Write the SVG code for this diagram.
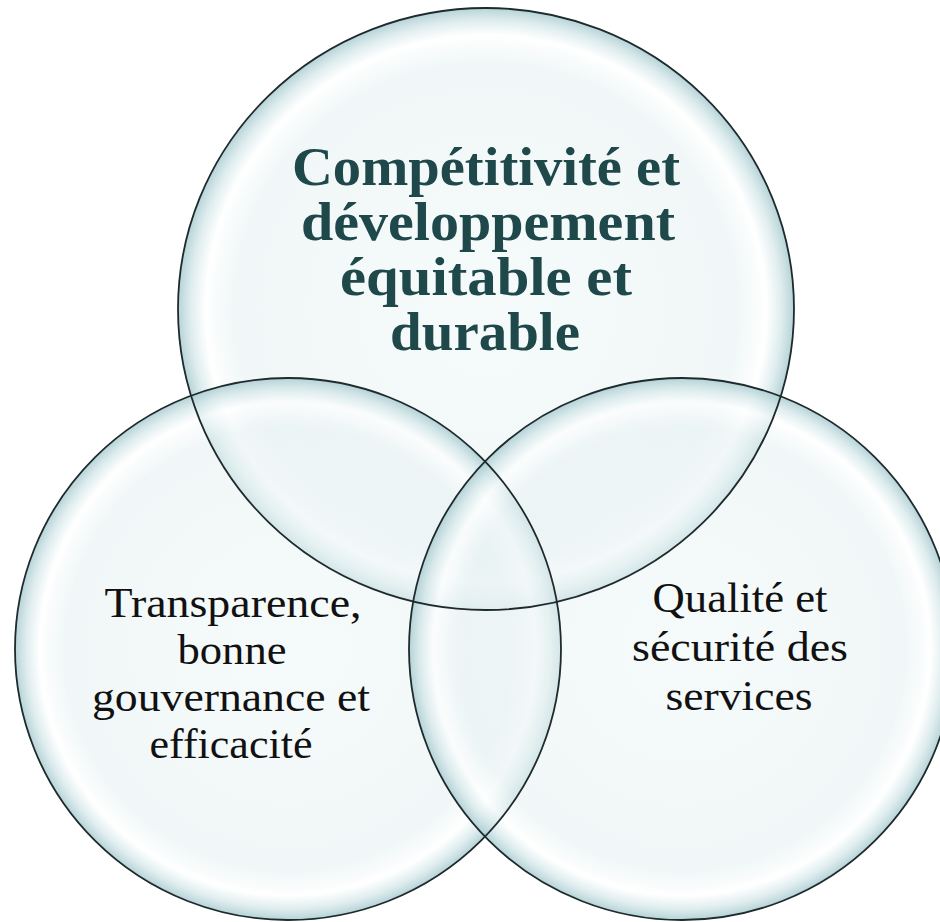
<svg xmlns="http://www.w3.org/2000/svg" width="940" height="922" viewBox="0 0 940 922">
<defs>
<radialGradient id="glass" cx="0.5" cy="0.5" r="0.5">
<stop offset="0" stop-color="#eef6f7" stop-opacity="0.55"/>
<stop offset="0.82" stop-color="#e8f2f3" stop-opacity="0.6"/>
<stop offset="0.91" stop-color="#ffffff" stop-opacity="0.7"/>
<stop offset="0.96" stop-color="#d3e6e8" stop-opacity="0.75"/>
<stop offset="1" stop-color="#a8cbd0" stop-opacity="0.85"/>
</radialGradient>
<style>
.c{fill:url(#glass);stroke:none}
.o{fill:none;stroke:#1e2a2c;stroke-width:1.8}
.t{font-family:"Liberation Serif","Times New Roman",serif;text-anchor:middle}
.title{font-weight:bold;font-size:55px;fill:#1f484b}
.lab{font-size:42px;fill:#111}
</style>
</defs>
<rect width="940" height="922" fill="#ffffff"/>
<g id="node-top">
<ellipse id="e-top" class="c" cx="486" cy="309" rx="308" ry="301"/>
</g>
<g id="node-left">
<ellipse id="e-left" class="c" cx="288" cy="649" rx="273" ry="271"/>
</g>
<g id="node-right">
<ellipse id="e-right" class="c" cx="682" cy="649" rx="273" ry="271"/>
</g>
<g id="outlines">
<ellipse class="o" cx="486" cy="309" rx="308" ry="301"/>
<ellipse class="o" cx="288" cy="649" rx="273" ry="271"/>
<ellipse class="o" cx="682" cy="649" rx="273" ry="271"/>
</g>
<g id="connectors"></g>
<g id="labels">
<text class="t title" x="486" y="185" textLength="388" lengthAdjust="spacingAndGlyphs">Compétitivité et</text>
<text class="t title" x="488" y="240" textLength="374" lengthAdjust="spacingAndGlyphs">développement</text>
<text class="t title" x="486" y="295" textLength="292" lengthAdjust="spacingAndGlyphs">équitable et</text>
<text class="t title" x="485" y="350" textLength="190" lengthAdjust="spacingAndGlyphs">durable</text>
<text class="t lab" x="233" y="617" textLength="257" lengthAdjust="spacingAndGlyphs">Transparence,</text>
<text class="t lab" x="232" y="664" textLength="109" lengthAdjust="spacingAndGlyphs">bonne</text>
<text class="t lab" x="231" y="711" textLength="278" lengthAdjust="spacingAndGlyphs">gouvernance et</text>
<text class="t lab" x="231" y="758" textLength="163" lengthAdjust="spacingAndGlyphs">efficacité</text>
<text class="t lab" x="740" y="612" textLength="175" lengthAdjust="spacingAndGlyphs">Qualité et</text>
<text class="t lab" x="740" y="661" textLength="216" lengthAdjust="spacingAndGlyphs">sécurité des</text>
<text class="t lab" x="739" y="710" textLength="147" lengthAdjust="spacingAndGlyphs">services</text>
</g>
</svg>
